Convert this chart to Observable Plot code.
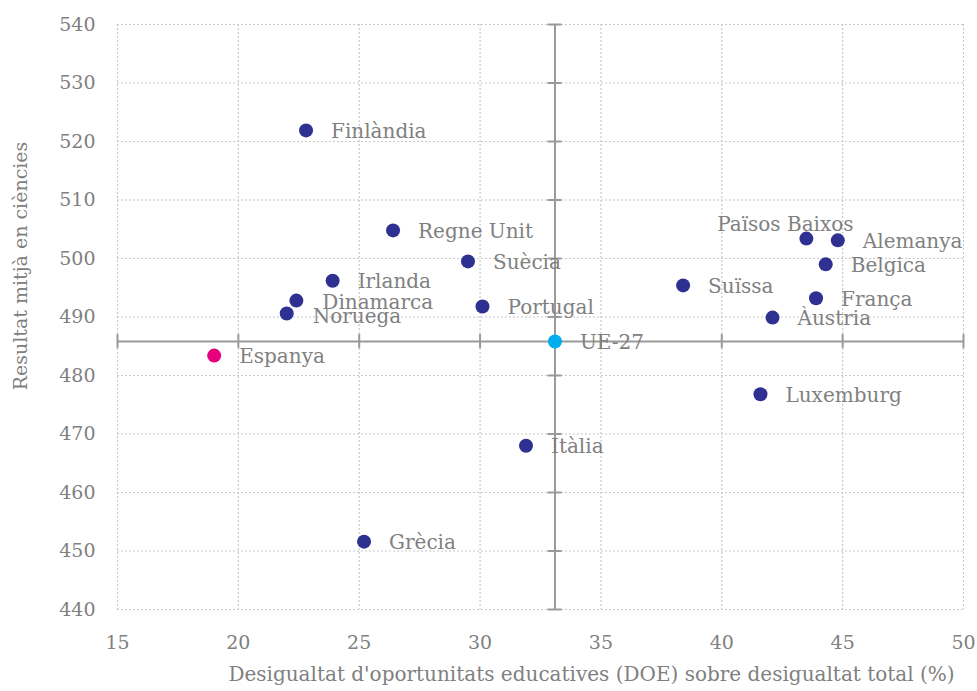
<!DOCTYPE html>
<html>
<head>
<meta charset="utf-8">
<script src="https://cdn.jsdelivr.net/npm/d3@7"></script>
<script src="https://cdn.jsdelivr.net/npm/@observablehq/plot@0.6"></script>
<style>
  html, body { margin: 0; padding: 0; background: #fff; }
  #chart svg { display: block; }
</style>
</head>
<body>
<div id="chart"></div>
<script>
// ---- Data ----
const countries = ["Finlàndia","Regne Unit","Suècia","Irlanda","Dinamarca","Noruega","Portugal","UE-27","Espanya","Itàlia","Grècia","Suïssa","Països Baixos","Alemanya","Belgica","França","Àustria","Luxemburg"];
const doe = [22.8, 26.4, 29.5, 23.9, 22.4, 22.0, 30.1, 33.1, 19.0, 31.9, 25.2, 38.4, 43.5, 44.8, 44.3, 43.9, 42.1, 41.6];
const ciencies = [521.9, 504.8, 499.5, 496.2, 492.8, 490.6, 491.8, 485.8, 483.4, 468.0, 451.6, 495.4, 503.4, 503.1, 499.0, 493.2, 489.9, 476.8];
const xTicks = [15, 20, 25, 30, 35, 40, 45, 50];
const yTicks = [440, 450, 460, 470, 480, 490, 500, 510, 520, 530, 540];
const xTitle = "Desigualtat d'oportunitats educatives (DOE) sobre desigualtat total (%)";
const yTitle = "Resultat mitjà en ciències";
const reference = "UE-27";
const highlight = "Espanya";

// ---- Styling ----
const navy = "#2e3192", pink = "#e6007e", cyan = "#00aeef", gray = "#808080";
const font = "DejaVu Serif, serif";
const labelOffsets = {
  "Països Baixos": {dx: -21, dy: -14, anchor: "middle"},
  "Dinamarca": {dx: 26, dy: 2},
  "Noruega": {dx: 26, dy: 3}
};

const data = countries.map((c, i) => ({name: c, x: doe[i], y: ciencies[i]}));
const ue = data.find(d => d.name === reference);
const colorOf = d => d.name === reference ? cyan : d.name === highlight ? pink : navy;
const lab = (d, k, def) => (labelOffsets[d.name] && labelOffsets[d.name][k] !== undefined) ? labelOffsets[d.name][k] : def;

const groups = d3.groups(data, d => `${lab(d,"dx",25)}|${lab(d,"dy",1)}|${lab(d,"anchor","start")}`);
const textMarks = groups.map(([key, arr]) => {
  const [dx, dy, anchor] = key.split("|");
  return Plot.text(arr, {x: "x", y: "y", text: "name", dx: +dx, dy: +dy, textAnchor: anchor,
    fill: gray, fontSize: 20, fontFamily: font});
});

const chart = Plot.plot({
  width: 977,
  height: 691,
  marginLeft: 117,
  marginRight: 14,
  marginTop: 24,
  marginBottom: 82,
  style: {fontFamily: font, background: "#fff"},
  x: {domain: [15, 50], ticks: xTicks},
  y: {domain: [440, 540], ticks: yTicks},
  marks: [
    Plot.gridX(xTicks, {stroke: "#c8c8c8", strokeOpacity: 1, strokeDasharray: "2,2", strokeWidth: 1.2}),
    Plot.gridY(yTicks, {stroke: "#c8c8c8", strokeOpacity: 1, strokeDasharray: "2,2", strokeWidth: 1.2}),
    // crosshair at UE-27
    Plot.ruleY([ue.y], {stroke: "#9a9a9a", strokeWidth: 2}),
    Plot.ruleX([ue.x], {stroke: "#9a9a9a", strokeWidth: 2}),
    Plot.ruleX(xTicks, {x: d => d, y1: ue.y, y2: ue.y, insetTop: -7, insetBottom: -7, stroke: "#9a9a9a", strokeWidth: 2}),
    Plot.ruleY(yTicks, {y: d => d, x1: ue.x, x2: ue.x, insetLeft: -7, insetRight: -7, stroke: "#9a9a9a", strokeWidth: 2}),
    Plot.axisX(xTicks, {tickSize: 0, tickPadding: 26, fontSize: 19, fill: gray, label: null, fontFamily: font}),
    Plot.axisY(yTicks, {tickSize: 0, tickPadding: 22, fontSize: 19, fill: gray, label: null, fontFamily: font}),
    Plot.text([xTitle], {frameAnchor: "bottom", dx: 51, dy: 71, text: d => d, textAnchor: "middle", fill: gray, fontSize: 20, fontFamily: font}),
    Plot.text([yTitle], {frameAnchor: "left", dx: -97, dy: -51, rotate: -90, textAnchor: "middle", text: d => d, fill: gray, fontSize: 19, fontFamily: font}),
    Plot.dot(data, {x: "x", y: "y", r: 7, fill: colorOf, stroke: "none"}),
    ...textMarks
  ]
});
document.getElementById("chart").appendChild(chart);
</script>
</body>
</html>
